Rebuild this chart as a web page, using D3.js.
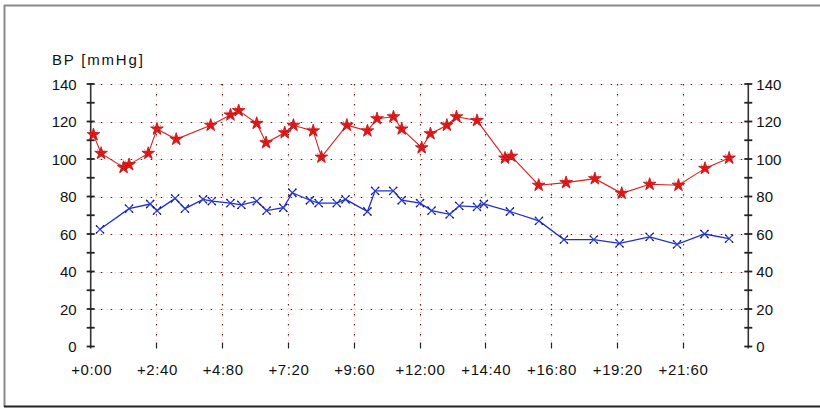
<!DOCTYPE html>
<html>
<head>
<meta charset="utf-8">
<script src="https://cdn.jsdelivr.net/npm/d3@7"></script>
<style>
  html, body { margin: 0; padding: 0; background: #ffffff; }
  svg { display: block; }
  text { font-family: "Liberation Sans", Arial, sans-serif; fill: #111; }
</style>
</head>
<body>
<svg id="chart" width="820" height="408"></svg>
<script>
// ---- data ----
const xTickValues = [0, 2.4, 4.8, 7.2, 9.6, 12.0, 14.4, 16.8, 19.2, 21.6];
const xTickLabels = ["+0:00", "+2:40", "+4:80", "+7:20", "+9:60", "+12:00", "+14:40", "+16:80", "+19:20", "+21:60"];
const yTickValues = [0, 20, 40, 60, 80, 100, 120, 140];
const yMinorValues = [10, 30, 50, 70, 90, 110, 130];
const yLabel = "BP [mmHg]";

// systolic (red, star markers)
const sysTime = [0.1, 0.38, 1.2, 1.4, 2.1, 2.42, 3.12, 4.38, 5.1, 5.4, 6.06, 6.4, 7.08, 7.4, 8.12, 8.42,
                 9.35, 10.1, 10.45, 11.05, 11.35, 12.08, 12.4, 13.0, 13.35, 14.1, 15.12, 15.35, 16.35,
                 17.35, 18.4, 19.38, 20.4, 21.45, 22.42, 23.3];
const sysValue = [113, 103, 95.5, 97, 103, 116, 110.5, 118, 123.5, 125.8, 119, 108.7, 114, 118, 115, 101,
                  118, 115, 121.5, 122.5, 116, 106, 113.5, 118, 122.5, 120.5, 100.5, 101.5, 86,
                  87.4, 89.5, 81.7, 86.5, 86, 95, 100.5];

// diastolic (blue, x markers)
const diaTime = [0.34, 1.4, 2.17, 2.42, 3.08, 3.44, 4.1, 4.42, 5.1, 5.5, 6.06, 6.42, 7.03, 7.36, 8.0, 8.32,
                 8.98, 9.3, 10.1, 10.38, 11.04, 11.35, 12.02, 12.44, 13.1, 13.45, 14.1, 14.35, 15.3,
                 16.36, 17.27, 18.36, 19.3, 20.4, 21.4, 22.4, 23.3];
const diaValue = [62.5, 73.5, 76, 72.5, 79, 73.5, 78.5, 77.5, 76.5, 75.5, 77.5, 72.5, 74, 82, 78, 76.5,
                  76.5, 78.5, 72, 83, 83, 78, 76.5, 72.5, 70.5, 75, 74.5, 76, 72,
                  67, 57, 57, 55, 58.5, 54.5, 60, 57.5];

// ---- drawing ----
const svg = d3.select("#chart");
const x = d3.scaleLinear().domain([0, 24]).range([90.7, 748.3]);
const y = d3.scaleLinear().domain([0, 140]).range([346.5, 84]);

// outer frame
svg.append("line").attr("x1", 4).attr("x2", 820).attr("y1", 5.5).attr("y2", 5.5)
  .attr("stroke", "#8a8a8a").attr("stroke-width", 2);
svg.append("line").attr("x1", 4.5).attr("x2", 4.5).attr("y1", 5).attr("y2", 407)
  .attr("stroke", "#8a8a8a").attr("stroke-width", 2);
svg.append("line").attr("x1", 4).attr("x2", 820).attr("y1", 406.5).attr("y2", 406.5)
  .attr("stroke", "#222").attr("stroke-width", 2);

// grid
const grid = svg.append("g");
const hVals = yTickValues.filter(v => v > 0);
const vVals = xTickValues.filter(v => v > 0);
function gridLayer(color, dash, width) {
  grid.selectAll(null).data(hVals).enter().append("line")
    .attr("x1", x(0)).attr("x2", x(24))
    .attr("y1", d => Math.round(y(d)) + 0.5).attr("y2", d => Math.round(y(d)) + 0.5)
    .attr("stroke", color).attr("stroke-width", width).attr("stroke-dasharray", dash);
  grid.selectAll(null).data(vVals).enter().append("line")
    .attr("x1", d => Math.round(x(d)) + 0.5).attr("x2", d => Math.round(x(d)) + 0.5)
    .attr("y1", y(140)).attr("y2", y(0) - 4)
    .attr("stroke", color).attr("stroke-width", width).attr("stroke-dasharray", dash);
}
gridLayer("#f2c4c4", "1,3", 1);
gridLayer("#5a2424", "1.5,8.5", 1.2);

// x tick marks (no bottom axis line)
svg.append("g").selectAll("line").data(vVals).enter().append("line")
  .attr("x1", d => Math.round(x(d)) + 0.5).attr("x2", d => Math.round(x(d)) + 0.5)
  .attr("y1", y(0) - 4).attr("y2", y(0) + 2)
  .attr("stroke", "#222").attr("stroke-width", 1.2);

// x tick labels
svg.append("g").selectAll("text").data(xTickValues).enter().append("text")
  .attr("x", d => x(d) + 1).attr("y", 375)
  .attr("text-anchor", "middle").attr("font-size", 15).attr("letter-spacing", 0.6)
  .text((d, i) => xTickLabels[i]);

// y axes (left and right)
function yAxis(xpos, side) {
  const g = svg.append("g");
  g.append("line").attr("x1", xpos).attr("x2", xpos).attr("y1", y(140) - 1).attr("y2", y(0) + 2)
    .attr("stroke", "#333").attr("stroke-width", 1.6);
  g.selectAll(null).data(yTickValues.concat(yMinorValues)).enter().append("line")
    .attr("x1", xpos - 4).attr("x2", xpos + 4)
    .attr("y1", d => y(d)).attr("y2", d => y(d))
    .attr("stroke", "#222").attr("stroke-width", 1.8);
  g.selectAll(null).data(yTickValues).enter().append("text")
    .attr("x", side === "left" ? xpos - 14 : xpos + 8)
    .attr("y", d => y(d) + 5.5)
    .attr("text-anchor", side === "left" ? "end" : "start")
    .attr("font-size", 15)
    .text(d => d);
}
yAxis(x(0), "left");
yAxis(x(24), "right");

// axis title
svg.append("text").attr("x", 52).attr("y", 65).attr("font-size", 15).attr("letter-spacing", 1.8).text(yLabel);

// lines
const sys = sysTime.map((t, i) => [t, sysValue[i]]);
const dia = diaTime.map((t, i) => [t, diaValue[i]]);
const line = d3.line().x(d => x(d[0])).y(d => y(d[1]));

svg.append("path").datum(sys).attr("d", line).attr("fill", "none")
  .attr("stroke", "#d42020").attr("stroke-width", 1.1);
svg.append("path").datum(dia).attr("d", line).attr("fill", "none")
  .attr("stroke", "#1f2fc8").attr("stroke-width", 1.3);

// red star markers
const star = d3.symbol().type(d3.symbolStar).size(50);
const sg = svg.append("g");
sg.selectAll("path.s").data(sys).enter().append("path")
  .attr("transform", d => `translate(${x(d[0])},${y(d[1])})`)
  .attr("d", star).attr("fill", "#f01818").attr("stroke", "#c01010").attr("stroke-width", 0.8);
sg.selectAll("path.a").data(sys).enter().append("path")
  .attr("transform", d => `translate(${x(d[0])},${y(d[1])})`)
  .attr("d", "M-4,-4L4,4M-4,4L4,-4")
  .attr("stroke", "#3a0a0a").attr("stroke-width", 0.6).attr("stroke-dasharray", "1.5,2").attr("opacity", 0.8);

// blue x markers
const bg = svg.append("g");
bg.selectAll("path").data(dia).enter().append("path")
  .attr("transform", d => `translate(${x(d[0])},${y(d[1])})`)
  .attr("d", "M-4,-4L4,4M-4,4L4,-4")
  .attr("stroke", "#2438d8").attr("stroke-width", 1.2);
bg.selectAll("circle").data(dia).enter().append("path")
  .attr("transform", d => `translate(${x(d[0])},${y(d[1])})`)
  .attr("d", "M-4,-4L-2.8,-2.8M4,4L2.8,2.8M-4,4L-2.8,2.8M4,-4L2.8,-2.8")
  .attr("stroke", "#1a1a40").attr("stroke-width", 1.1);
</script>
</body>
</html>
